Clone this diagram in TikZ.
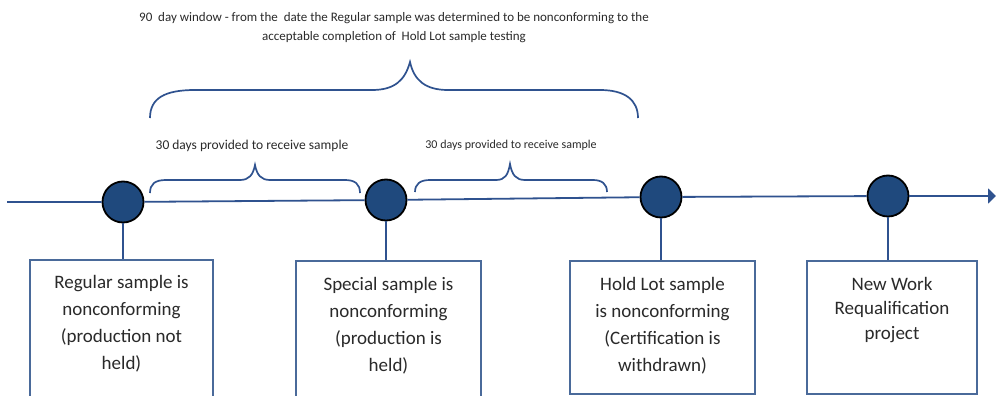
\documentclass[tikz,border=0pt]{standalone}
\usepackage{fontspec}
\setmainfont{Carlito}
\usetikzlibrary{arrows.meta}
\definecolor{lineblue}{HTML}{2F528F}
\definecolor{dotblue}{HTML}{1F497D}
\definecolor{boxblue}{HTML}{4A6A9A}
\definecolor{txt}{HTML}{2A2A2A}
\tikzset{
  dot/.style={circle, draw=black, fill=dotblue, line width=1.8pt, minimum size=41pt, inner sep=0pt},
  evbox/.style={draw=boxblue, line width=2pt, rectangle, inner sep=0pt, anchor=north},
  boxtext/.style={text=txt, font=\fontsize{19}{27}\selectfont, align=center, anchor=north, inner sep=0pt},
  smalltext/.style={text=txt, align=center, inner sep=0pt},
  bracepath/.style={draw=lineblue, line width=1.7pt},
  link/.style={draw=lineblue, line width=1.8pt}
}
\begin{document}
\begin{tikzpicture}[x=1pt,y=-1pt]
\useasboundingbox (0,0) rectangle (996,396);
\clip (0,0) rectangle (996,396);
\fill[white] (0,0) rectangle (996,396);

% timeline
\coordinate (start) at (7,202);
\coordinate (end) at (996,196);
\node[dot] (c1) at (123,202) {};
\node[dot] (c2) at (386,200) {};
\node[dot] (c3) at (661,197) {};
\node[dot] (c4) at (888,196) {};
\draw[link] (start) -- (c1) -- (c2) -- (c3) -- (c4);
\draw[link, -{Triangle[length=8pt,width=15pt]}] (c4) -- (end);

% boxes
\node[evbox, minimum width=183pt, minimum height=143pt] (b1) at (121.5,259) {};
\node[evbox, minimum width=185pt, minimum height=142pt] (b2) at (388.5,260) {};
\node[evbox, minimum width=185pt, minimum height=133pt] (b3) at (662.5,260) {};
\node[evbox, minimum width=170pt, minimum height=133pt] (b4) at (892,260) {};

\node[boxtext] (t1) at ([yshift=-16pt]b1.north) {Regular sample is\\nonconforming\\(production not\\held)};
\node[boxtext] (t2) at ([yshift=-17pt]b2.north) {Special sample is\\nonconforming\\(production is\\held)};
\node[boxtext] (t3) at ([yshift=-17pt]b3.north) {Hold Lot sample\\is nonconforming\\(Certification is\\withdrawn)};
\node[boxtext, font=\fontsize{19}{24.5}\selectfont] (t4) at ([yshift=-17pt]b4.north) {New Work\\Requalification\\project};

% links circle -> box
\draw[link] (c1.south) -- (c1.south |- b1.north);
\draw[link] (c2.south) -- (c2.south |- b2.north);
\draw[link] (c3.south) -- (c3.south |- b3.north);
\draw[link] (c4.south) -- (c4.south |- b4.north);

% top label and big brace
\node[smalltext, font=\fontsize{13}{19}\selectfont] (win) at (394,27.5) {90~ day window - from the~ date the Regular sample was determined to be nonconforming to the\\acceptable completion of~ Hold Lot sample testing};
\draw[bracepath] (150,118) .. controls (150,98) and (165,90) .. (195,90) -- (372,90)
  .. controls (395,90) and (405,80) .. (410,62)
  .. controls (414,80) and (425,90) .. (448,90) -- (600,90)
  .. controls (625,90) and (638,100) .. (638,118);

% small braces and labels
\node[smalltext, font=\fontsize{13.5}{16}\selectfont] (l1) at (252,146) {30 days provided to receive sample};
\node[smalltext, font=\fontsize{12}{15}\selectfont] (l2) at (511,145) {30 days provided to receive sample};
\draw[bracepath] (150,193) .. controls (150,184) and (155,180) .. (166,180) -- (240,180)
  .. controls (249,180) and (253,175) .. (255,165)
  .. controls (257,175) and (261,180) .. (270,180) -- (345,180)
  .. controls (355,180) and (360,184) .. (360,193);
\draw[bracepath] (415,192) .. controls (415,184) and (420,180) .. (430,180) -- (496,180)
  .. controls (505,180) and (508,175) .. (510,164)
  .. controls (512,175) and (516,180) .. (525,180) -- (593,180)
  .. controls (602,180) and (607,184) .. (607,192);
\end{tikzpicture}
\end{document}
